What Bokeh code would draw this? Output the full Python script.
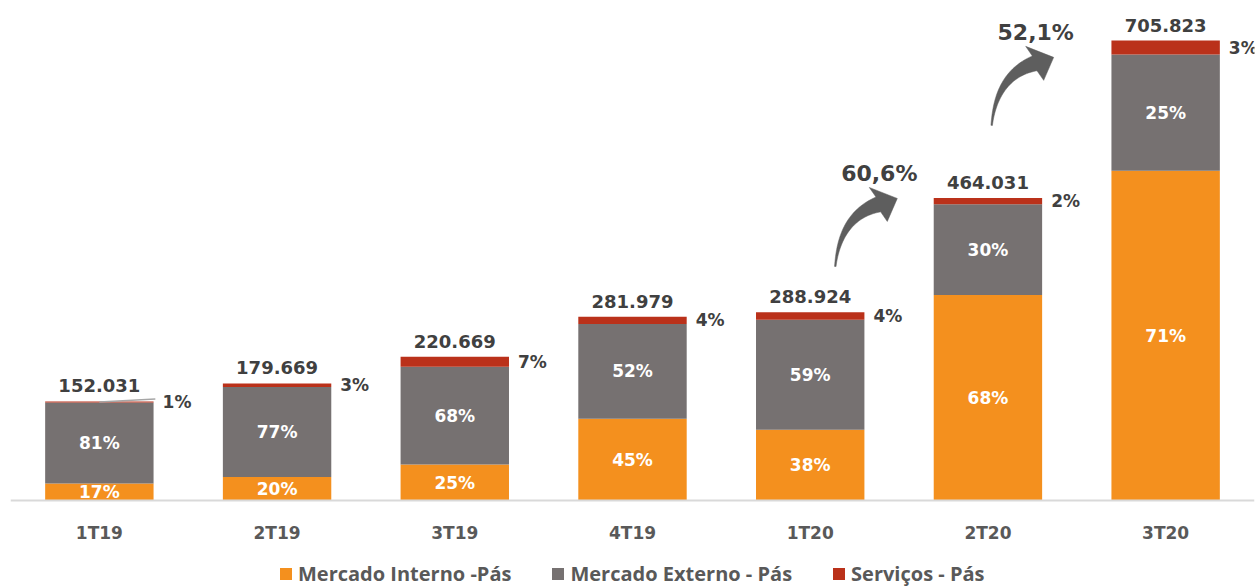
import numpy as np
from bokeh.plotting import figure
from bokeh.models import (ColumnDataSource, Range1d, FixedTicker, Legend, LegendItem)
from bokeh.core.properties import value
from bokeh.embed import file_html
from bokeh.resources import INLINE

# ---------------- data ----------------
categories = ["1T19", "2T19", "3T19", "4T19", "1T20", "2T20", "3T20"]
totals = [152031, 179669, 220669, 281979, 288924, 464031, 705823]
share_interno = [17, 20, 25, 45, 38, 68, 71]
share_externo = [81, 77, 68, 52, 59, 30, 25]
share_servicos = [1, 3, 7, 4, 4, 2, 3]
series_names = ["Mercado Interno -Pás", "Mercado Externo - Pás", "Serviços - Pás"]
growth_pairs = [(4, 5), (5, 6)]          # growth arrows between these quarters

# ---------------- style ----------------
COLORS = ["#F4901E", "#767171", "#BA311A"]
DARK = "#404040"
AXIS_TXT = "#595959"
FONT = value("DejaVu Sans")

W, H = 1258, 587
FRAME_L, FRAME_R, FRAME_T = 10, 4, 8
PLOT_H = 492                 # px from y=0 to top of frame
BELOW_H = H - FRAME_T - PLOT_H
Y_END = 755000
Y_PX = Y_END / PLOT_H        # y units per px
Y_START = -BELOW_H * Y_PX
X_START, X_END = -0.5, 6.5
FRAME_W = W - FRAME_L - FRAME_R
PX_X = FRAME_W / (X_END - X_START)     # px per x unit
BAR_W = 0.61

x = list(range(len(categories)))
shares = np.array([share_interno, share_externo, share_servicos], dtype=float)
norm = shares / shares.sum(axis=0)
tot = np.array(totals, dtype=float)
heights = norm * tot
bottoms = np.vstack([np.zeros(len(x)), np.cumsum(heights, axis=0)[:-1]])
tops = bottoms + heights

src = ColumnDataSource(dict(x=x, interno=heights[0], externo=heights[1], servicos=heights[2]))

p = figure(width=W, height=H, output_backend="svg", toolbar_location=None,
           x_range=Range1d(X_START, X_END), y_range=Range1d(Y_START, Y_END),
           min_border_left=FRAME_L, min_border_right=FRAME_R, min_border_top=FRAME_T,
           min_border_bottom=0)
p.outline_line_color = None
p.grid.visible = False
p.yaxis.visible = False

rends = p.vbar_stack(["interno", "externo", "servicos"], x="x", width=BAR_W,
                     color=COLORS, line_color=None, source=src)

xa = p.xaxis[0]
xa.fixed_location = 0
xa.ticker = FixedTicker(ticks=x)
xa.major_label_overrides = {i: c for i, c in enumerate(categories)}
xa.axis_line_color = "#D9D9D9"
xa.axis_line_width = 2
xa.major_tick_line_color = None
xa.minor_tick_line_color = None
xa.major_label_text_font = "DejaVu Sans"
xa.major_label_text_font_style = "bold"
xa.major_label_text_font_size = "17px"
xa.major_label_text_color = AXIS_TXT
xa.major_label_standoff = 16

# inside labels (interno, externo)
for k in range(2):
    mids = (bottoms[k] + tops[k]) / 2
    p.text(x=x, y=mids, text=[f"{s}%" for s in shares[k].astype(int)],
           text_font=FONT, text_font_style="bold", text_font_size="17px",
           text_color="white", text_align="center", text_baseline="middle")

# servicos labels to the right
mids = (bottoms[2] + tops[2]) / 2
p.text(x=[i + BAR_W / 2 for i in x], y=mids, text=[f"{s}%" for s in share_servicos],
       x_offset=9, text_font=FONT, text_font_style="bold", text_font_size="17px",
       text_color=DARK, text_align="left", text_baseline="middle")

# leader line for tiny segments
small = [i for i in x if share_servicos[i] < 2]
p.segment(x0=small, y0=[mids[i] for i in small],
          x1=[i + BAR_W / 2 + 0.01 for i in small], y1=[mids[i] + 3 * Y_PX for i in small],
          line_color="#A6A6A6", line_width=1.5)

# totals
p.text(x=x, y=list(tot), text=[f"{t:,}".replace(",", ".") for t in totals], y_offset=-9,
       text_font=FONT, text_font_style="bold", text_font_size="18px",
       text_color=DARK, text_align="center", text_baseline="bottom")

# ---------------- growth arrows ----------------
tips = [(4.49, 463500), (5.37, 680000)]   # arrow tip anchors (annotation placement)
corner_a = np.array([-28.0, -11.0])
corner_b = np.array([-10.0, 23.0])
tail = np.array([-62.0, 68.0])
base = (corner_a + corner_b) / 2
d = -base / np.linalg.norm(base)
ctrl = base - d * 40

def arrow_poly():
    t = np.linspace(0, 1, 40)[:, None]
    B = (1 - t) ** 2 * tail + 2 * (1 - t) * t * ctrl + t ** 2 * base
    D = 2 * (1 - t) * (ctrl - tail) + 2 * t * (base - ctrl)
    n = np.column_stack([-D[:, 1], D[:, 0]]) / np.linalg.norm(D, axis=1)[:, None]
    w = (1.5 + 14 * t ** 1.3)
    left = B + n * w / 2
    right = B - n * w / 2
    ca, cb = corner_a, corner_b
    if np.linalg.norm(left[-1] - ca) > np.linalg.norm(left[-1] - cb):
        ca, cb = cb, ca
    return np.vstack([left, ca, [0, 0], cb, right[::-1]])

pts = arrow_poly()
for (a, b), (tx, ty) in zip(growth_pairs, tips):
    xs = tx + pts[:, 0] / PX_X
    ys = ty - pts[:, 1] * Y_PX
    p.patch(xs, ys, fill_color="#5E5E5E", line_color="#5E5E5E", line_width=0.5)
    g = (totals[b] / totals[a] - 1) * 100
    p.text(x=[tx], y=[ty], text=[f"{g:.1f}%".replace(".", ",")],
           x_offset=-18, y_offset=-25, text_font=FONT, text_font_style="bold",
           text_font_size="22px", text_color=DARK, text_align="center",
           text_baseline="middle")

# ---------------- legend ----------------
legend = Legend(items=[LegendItem(label=n, renderers=[r]) for n, r in zip(series_names, rends)],
                orientation="horizontal", location=(268, 0),
                label_text_font="Open Sans", label_text_font_style="bold",
                label_text_font_size="20px",
                label_text_color=AXIS_TXT, glyph_width=15, glyph_height=15,
                label_standoff=5, spacing=39, padding=0, margin=0,
                border_line_color=None, background_fill_alpha=0)
p.add_layout(legend, "center")

open("out.html", "w").write(file_html(p, INLINE))
